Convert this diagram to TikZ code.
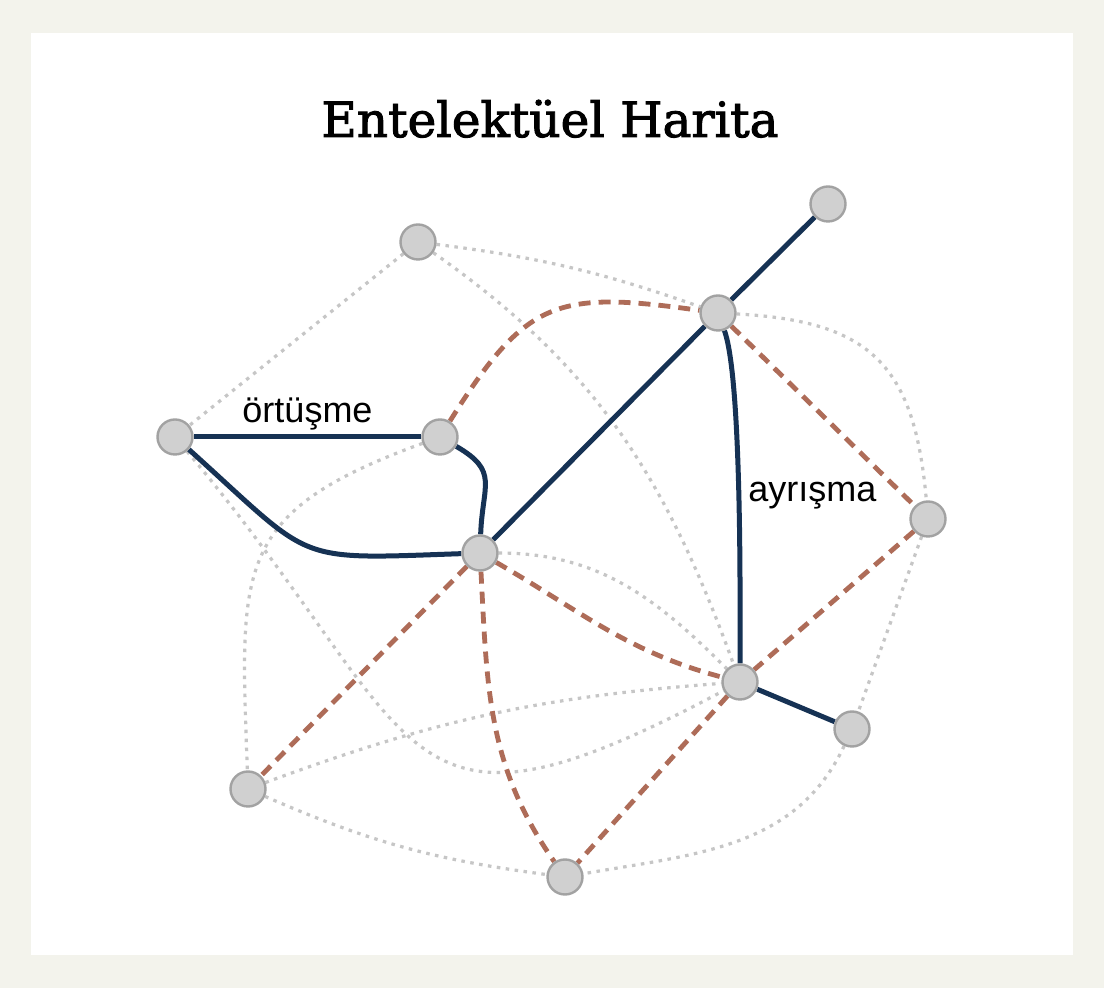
\documentclass[tikz,border=0pt]{standalone}
\usepackage{fontspec}
\setmainfont{DejaVu Serif}
\setsansfont{Liberation Sans}
\newfontfamily\titlefont[FakeBold=2]{DejaVu Serif}
\usetikzlibrary{positioning,backgrounds}

\definecolor{navy}{RGB}{22,50,84}
\definecolor{rust}{RGB}{174,108,88}
\definecolor{faint}{RGB}{198,198,198}
\definecolor{nodefill}{RGB}{208,208,208}
\definecolor{nodeline}{RGB}{162,162,162}
\definecolor{paper}{RGB}{243,243,236}

\begin{document}
\begin{tikzpicture}[x=1pt,y=1pt,
  concept/.style={circle,draw=nodeline,fill=nodefill,line width=2.4pt,minimum size=35pt,inner sep=0pt},
  strong/.style={draw=navy,line width=5pt},
  clash/.style={draw=rust,line width=4.8pt,dash pattern=on 12pt off 8pt},
  weak/.style={draw=faint,line width=3.2pt,dash pattern=on 3.5pt off 5.5pt},
  tag/.style={font=\sffamily\fontsize{36}{40}\selectfont,text=black,inner sep=2pt}]

 \useasboundingbox (0,0) rectangle (1104,988);

 \node[font=\titlefont\fontsize{48.5}{58}\selectfont,anchor=base] (title) at (550,851) {Entelektüel Harita};

 \node[concept] (c_a) at (418,746) {};
 \node[concept] (c_b) at (828,784) {};
 \node[concept] (c_c) at (718,675) {};
 \node[concept] (c_d) at (175,551) {};
 \node[concept] (c_e) at (440,551) {};
 \node[concept] (c_f) at (480,435) {};
 \node[concept] (c_g) at (928,469) {};
 \node[concept] (c_h) at (740,306) {};
 \node[concept] (c_i) at (852,259) {};
 \node[concept] (c_j) at (248,199) {};
 \node[concept] (c_k) at (565,111) {};

 \begin{pgfonlayer}{background}
  \fill[paper] (0,0) rectangle (1104,988);
  \fill[white] (31,33) rectangle (1073,955);

  % faint links
  \path[weak]
   (c_a) edge (c_d)
   (c_a) edge[bend left=6] (c_c)
   (c_a) edge[out=-35,in=110] (c_h)
   (c_c) edge[out=-3,in=95,looseness=1.3] (c_g)
   (c_g) edge (c_i)
   (c_i) edge[out=-115,in=10] (c_k)
   (c_j) edge[bend right=8] (c_k)
   (c_j) edge[bend left=8] (c_h)
   (c_d) edge[out=-50,in=-152,looseness=1.65] (c_h)
   (c_e) edge[out=200,in=92,looseness=1.4] (c_j)
   (c_f) edge[out=0,in=135] (c_h);

  % tensions
  \path[clash]
   (c_e) edge[out=58,in=172,looseness=1.35] (c_c)
   (c_c) edge (c_g)
   (c_g) edge (c_h)
   (c_f) edge (c_j)
   (c_f) edge[out=-87,in=125] (c_k)
   (c_f) edge[out=-30,in=165] (c_h)
   (c_h) edge (c_k);

  % strong links
  \path[strong]
   (c_d) edge node[tag,above=2pt] {örtüşme} (c_e)
   (c_d) edge[out=-42,in=182,looseness=1.5] (c_f)
   (c_e) edge[out=-30,in=88,looseness=1.4] (c_f)
   (c_f) edge (c_c)
   (c_c) edge (c_b)
   (c_c) edge[out=-70,in=90,looseness=0.4] node[tag,right=5pt] {ayrışma} (c_h)
   (c_h) edge (c_i);
 \end{pgfonlayer}
\end{tikzpicture}
\end{document}
